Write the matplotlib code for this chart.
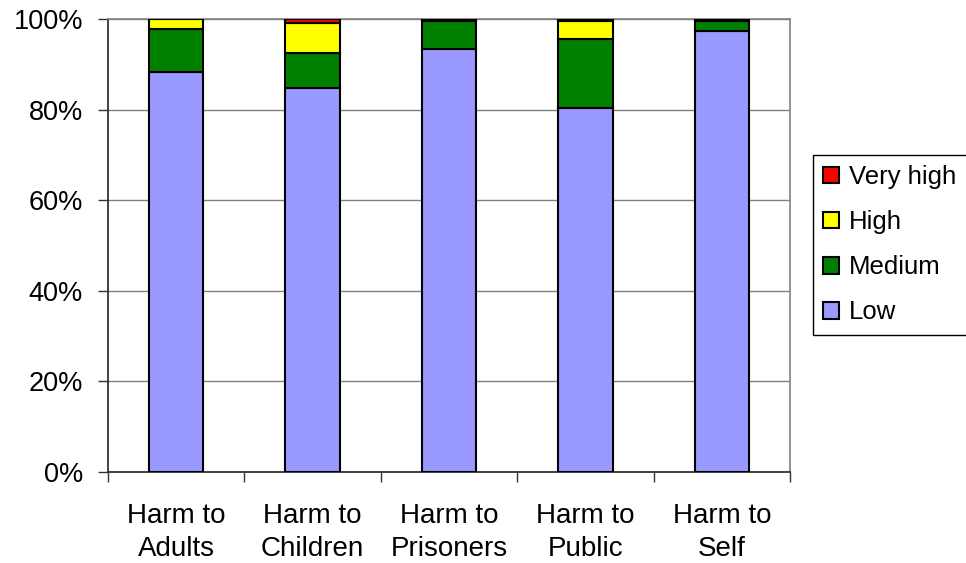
import numpy as np
import matplotlib.pyplot as plt

plt.rcParams['font.family'] = ['Liberation Sans', 'DejaVu Sans']

categories = ['Harm to\nAdults', 'Harm to\nChildren', 'Harm to\nPrisoners',
              'Harm to\nPublic', 'Harm to\nSelf']
low = [88.3, 84.8, 93.3, 80.4, 97.4]
medium = [9.4, 7.6, 6.3, 15.1, 2.2]
high = [2.3, 6.8, 0.4, 4.1, 0.4]
very_high = [0.0, 0.8, 0.0, 0.4, 0.0]

series = [('Low', low, '#9999FF'), ('Medium', medium, '#008000'),
          ('High', high, '#FFFF00'), ('Very high', very_high, '#FF0000')]

fig = plt.figure(figsize=(9.66, 5.63), dpi=100)
ax = fig.add_axes([108/966, 1-472/563, (790-108)/966, (472-19)/563])

x = np.arange(len(categories))
bottom = np.zeros(len(categories))
handles = []
for name, vals, col in series:
    b = ax.bar(x, vals, 0.4, bottom=bottom, color=col, edgecolor='black',
               linewidth=1.5, label=name, zorder=3)
    handles.append(b)
    bottom += np.array(vals)

ax.set_xlim(-0.5, len(categories) - 0.5)
ax.set_ylim(0, 100)
ax.set_yticks(np.arange(0, 101, 20))
ax.set_yticklabels([f'{v}%' for v in range(0, 101, 20)], fontsize=19.5)
ax.yaxis.grid(True, color='#808080', linewidth=1, zorder=0)

# ticks at category boundaries, labels at centers
ax.set_xticks(np.arange(-0.5, len(categories), 1))
ax.set_xticklabels([])
ax.set_xticks(x, minor=True)
ax.set_xticklabels(categories, minor=True, fontsize=20, linespacing=1.35)
ax.tick_params(axis='x', which='minor', length=0, pad=22)
ax.tick_params(axis='x', which='major', length=7, width=1, color='#333333')
ax.tick_params(axis='y', length=7, width=1, color='#333333', pad=11)

for s in ['top', 'right']:
    ax.spines[s].set_color('#808080')
    ax.spines[s].set_linewidth(1.2)
for s in ['left', 'bottom']:
    ax.spines[s].set_color('#333333')
    ax.spines[s].set_linewidth(1.3)

leg = ax.legend(handles[::-1], [s[0] for s in series][::-1],
                loc='upper left', bbox_to_anchor=(813/966, 1-155/563),
                bbox_transform=fig.transFigure, fontsize=18.5, frameon=True,
                fancybox=False, framealpha=1, edgecolor='black',
                handlelength=0.6, handleheight=0.6, handletextpad=0.4,
                labelspacing=0.82, borderpad=0.4, borderaxespad=0)
leg.get_frame().set_linewidth(1)

fig.savefig('out.png', dpi=100)
